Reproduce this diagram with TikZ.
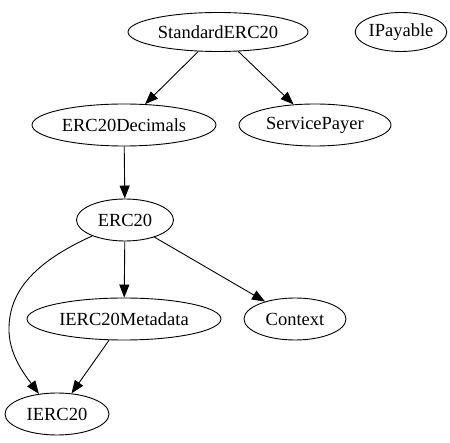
\documentclass[tikz,border=0pt]{standalone}
\usepackage{fontspec}
\setmainfont{Liberation Serif}
\usetikzlibrary{shapes.geometric, arrows.meta}

\begin{document}
\begin{tikzpicture}[x=1pt, y=1pt,
	every node/.style={font=\fontsize{18.5}{22}\selectfont},
	cls/.style={ellipse, draw, line width=0.9pt, inner sep=0pt, minimum height=42pt},
	arr/.style={line width=0.9pt, -{Triangle[length=13pt, width=10pt]}}]
\useasboundingbox (0, 0) rectangle (450, -443);

\node[cls, minimum width=180pt, minimum height=39pt] (std) at (218, -32) {StandardERC20};
\node[cls, minimum width=90pt, minimum height=39pt] (ipay) at (401, -32) {IPayable};

\node[cls, minimum width=184pt] (dec) at (124, -125) {ERC20Decimals};
\node[cls, minimum width=152pt] (svc) at (315, -125) {ServicePayer};

\node[cls, minimum width=97pt] (erc) at (125, -220) {ERC20};

\node[cls, minimum width=194pt] (meta) at (124, -319) {IERC20Metadata};
\node[cls, minimum width=102pt] (ctx) at (295, -319) {Context};

\node[cls, minimum width=104pt] (ierc) at (57, -414) {IERC20};

\draw[arr] (std) -- (dec);
\draw[arr] (std) -- (svc);

\draw[arr] (dec) -- (erc);

\draw[arr] (erc) -- (meta);
\draw[arr] (erc) -- (ctx);
\draw[arr] (erc.206) .. controls (30, -264) and (10, -294) .. (9, -327)
	.. controls (8, -354) and (25, -375) .. (ierc.132);

\draw[arr] (meta) -- (ierc);
\end{tikzpicture}
\end{document}
